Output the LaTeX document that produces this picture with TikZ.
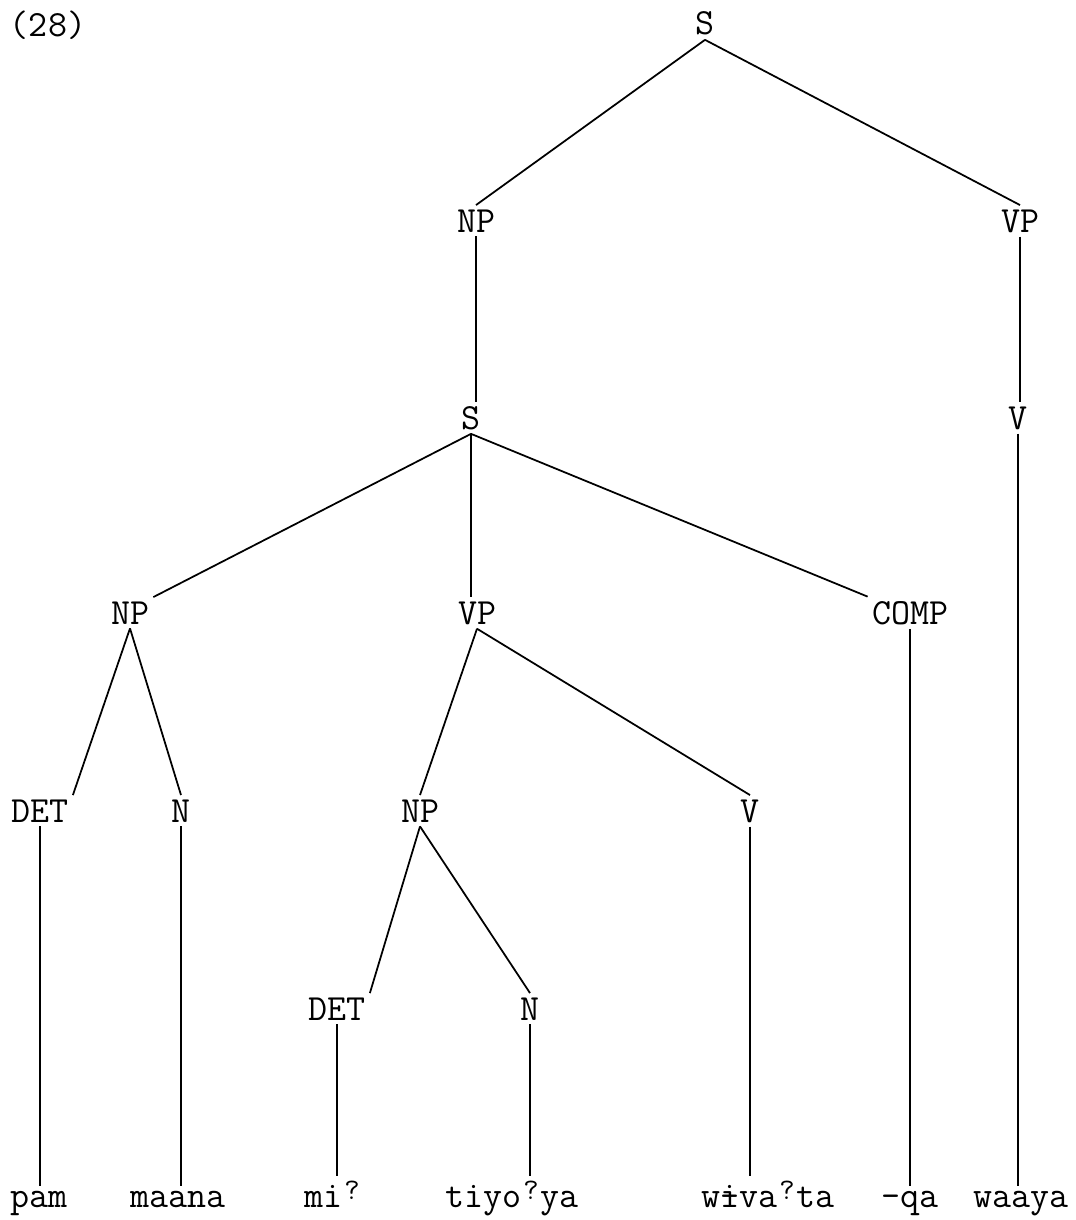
\documentclass[tikz,border=0pt]{standalone}
\usepackage{fontspec}
\newcommand\gs{\makebox[0.525em]{\raisebox{0.5ex}{\fontsize{17}{17}\selectfont ?}}}
\newcommand\ibar{\rlap{-}i}
\begin{document}
\begin{tikzpicture}[x=0.02cm,y=-0.02cm,line width=1pt,
  every node/.style={font=\ttfamily\fontsize{21}{24}\selectfont,inner sep=2pt,anchor=base}]
  \useasboundingbox (0,0) rectangle (1075,1220);
  \node (num) at (48,37) {(28)};
  % upper part
  \node (s0) at (705,35) {S};
  \node (np0) at (476,232) {NP};
  \node (vp0) at (1020,232) {VP};
  \node (s1) at (471,429) {S};
  \node (v0) at (1018,429) {V};
  % middle level
  \node (np1) at (130,624) {NP};
  \node (vp1) at (477,624) {VP};
  \node (comp) at (910,624) {COMP};
  \node (det1) at (40,822) {DET};
  \node (n1) at (181,822) {N};
  \node (np2) at (420,822) {NP};
  \node (v1) at (750,822) {V};
  \node (det2) at (337,1020) {DET};
  \node (n2) at (530,1020) {N};
  % words
  \node (w1) at (39,1207) {pam};
  \node (w2) at (178,1207) {maana};
  \node (w3) at (333,1207) {mi\gs};
  \node (w4) at (512,1207) {tiyo\gs ya};
  \node (w5) at (768,1207) {w\ibar va\gs ta};
  \node (w6) at (910,1207) {-qa};
  \node (w7) at (1021,1207) {waaya};
  % branches
  \draw (s0.south) -- (np0.north);
  \draw (s0.south) -- (vp0.north);
  \draw (np0.south) -- (np0.south |- s1.north);
  \draw (vp0.south) -- (vp0.south |- v0.north);
  \draw (s1.south) -- (np1.north east);
  \draw (s1.south) -- (s1.south |- vp1.north);
  \draw (s1.south) -- (comp.north west);
  \draw (np1.south) -- (det1.north east);
  \draw (np1.south) -- (n1.north);
  \draw (vp1.south) -- (np2.north);
  \draw (vp1.south) -- (v1.north);
  \draw (np2.south) -- (det2.north east);
  \draw (np2.south) -- (n2.north);
  % down to the words
  \draw (det1.south) -- (det1.south |- w1.north);
  \draw (n1.south) -- (n1.south |- w2.north);
  \draw (det2.south) -- (det2.south |- w3.north);
  \draw (n2.south) -- (n2.south |- w4.north);
  \draw (v1.south) -- (v1.south |- w5.north);
  \draw (comp.south) -- (comp.south |- w6.north);
  \draw (v0.south) -- (v0.south |- w7.north);
\end{tikzpicture}
\end{document}
